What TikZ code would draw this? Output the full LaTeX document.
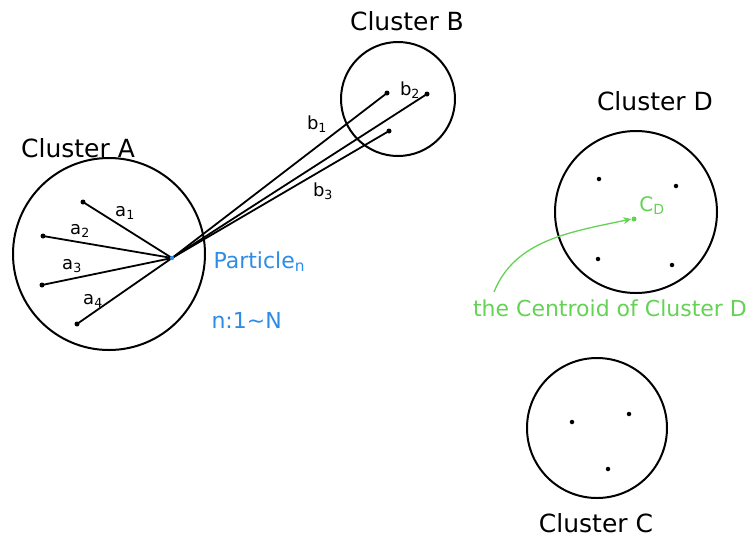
\documentclass[tikz,border=0pt]{standalone}
\usepackage{fontspec}
\setmainfont{DejaVu Sans}
\usetikzlibrary{arrows.meta}
\definecolor{pblue}{RGB}{45,140,230}
\definecolor{pgreen}{RGB}{100,210,85}
\tikzset{
  clus/.style={draw=black, line width=2pt},
  pt/.style={circle, fill=black, inner sep=0pt, minimum size=5pt},
  ptsmall/.style={circle, fill=black, inner sep=0pt, minimum size=4.5pt},
  link/.style={draw=black, line width=1.8pt},
  ctitle/.style={font=\fontsize{25}{30}\selectfont, text=black},
  lab/.style={font=\fontsize{18}{22}\selectfont, text=black, inner sep=1pt},
}
\begin{document}
\begin{tikzpicture}[x=1pt,y=-1pt]
\useasboundingbox (0,0) rectangle (750,550);
% clusters
\draw[clus] (109,254) circle (96);
\draw[clus] (398,99) circle (57);
\draw[clus] (636,212) circle (81);
\draw[clus] (597,428) circle (70);
% titles
\node[ctitle] (tA) at (78,148) {Cluster A};
\node[ctitle] (tB) at (407,21) {Cluster B};
\node[ctitle] (tD) at (655,101) {Cluster D};
\node[ctitle] (tC) at (596,523) {Cluster C};
% particle
\coordinate (p) at (172,258);
\node[pt] (a1) at (83,202) {};
\node[pt] (a2) at (43,236) {};
\node[pt] (a3) at (42,285) {};
\node[pt] (a4) at (77,324) {};
\node[pt] (b1) at (387,93) {};
\node[pt] (b2) at (427,94) {};
\node[pt] (b3) at (389,131) {};
\foreach \q in {a1,a2,a3,a4,b1,b2,b3} \draw[link] (p) -- (\q.center);
\fill[pblue] (p) circle (2.2);
% link labels
\node[lab] (la1) at (125,213) {a\textsubscript{1}};
\node[lab] (la2) at (80,231) {a\textsubscript{2}};
\node[lab] (la3) at (72,266) {a\textsubscript{3}};
\node[lab] (la4) at (93,301) {a\textsubscript{4}};
\node[lab] (lb1) at (317,124) {b\textsubscript{1}};
\node[lab] (lb2) at (410,90) {b\textsubscript{2}};
\node[lab] (lb3) at (323,191) {b\textsubscript{3}};
% particle labels
\node[font=\fontsize{22}{26}\selectfont, text=pblue, anchor=west] (pl) at (210,262) {Particle\textsubscript{n}};
\node[font=\fontsize{22}{26}\selectfont, text=pblue, anchor=west] (nl) at (208,320) {n:1∼N};
% cluster D points
\node[ptsmall] (d1) at (599,179) {};
\node[ptsmall] (d2) at (676,186) {};
\node[ptsmall] (d3) at (598,259) {};
\node[ptsmall] (d4) at (672,265) {};
\node[circle, fill=pgreen, inner sep=0pt, minimum size=5pt] (cd) at (634,219) {};
\node[font=\fontsize{20}{24}\selectfont, text=pgreen] (cdl) at (652,206) {C\textsubscript{D}};
% cluster C points
\node[ptsmall] (c1) at (572,422) {};
\node[ptsmall] (c2) at (629,414) {};
\node[ptsmall] (c3) at (608,469) {};
% centroid note
\node[font=\fontsize{22}{26}\selectfont, text=pgreen] (note) at (610,308) {the Centroid of Cluster D};
\coordinate (ns) at (494,292);
\draw[pgreen, line width=1.3pt, -{Stealth[length=8pt,width=7pt]}] (ns) .. controls (515,240) and (570,232) .. (cd.west);
\end{tikzpicture}
\end{document}
